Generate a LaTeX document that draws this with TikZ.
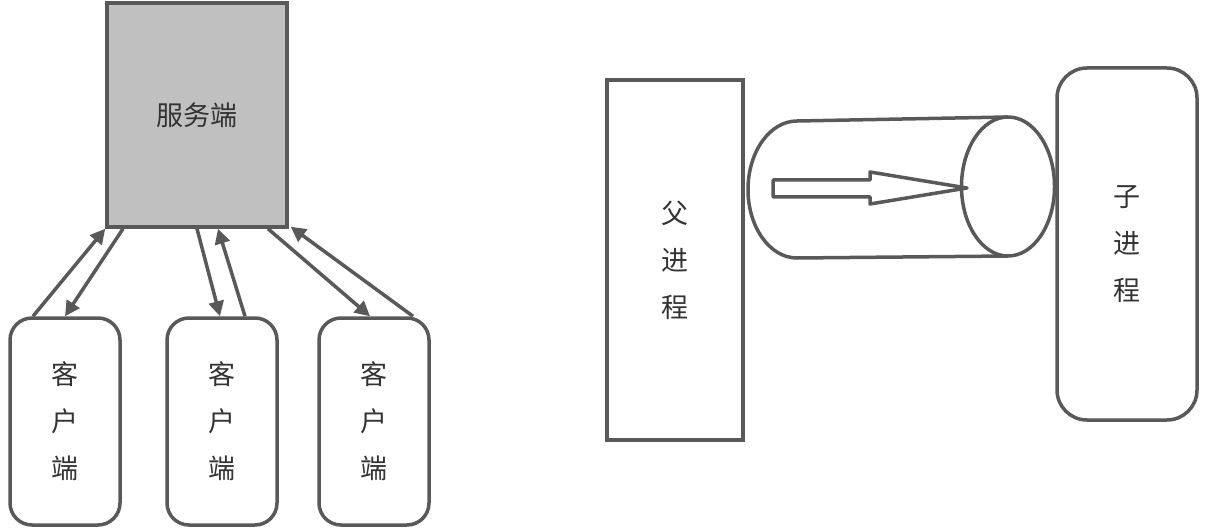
\documentclass[tikz,border=0pt]{standalone}
\usepackage{fontspec}
\newfontfamily\cjk{Noto Sans CJK SC}
\usetikzlibrary{arrows.meta}
\definecolor{ln}{HTML}{595959}
\definecolor{srvfill}{HTML}{C0C0C0}
\definecolor{txt}{HTML}{333333}
\begin{document}
\begin{tikzpicture}[x=1pt,y=-1pt,
  every node/.style={font=\cjk\fontsize{27}{47}\selectfont, text=txt, align=center, line width=3.5pt, draw=ln},
  boxsq/.style={rectangle},
  boxrd/.style={rectangle, rounded corners=22pt},
  conn/.style={draw=ln, line width=3.5pt, -{Triangle[length=15pt,width=15pt]}},
  pipe/.style={draw=ln, line width=3.5pt, line join=round}]
\useasboundingbox (0,0) rectangle (1206,529);
% left: server/clients
\node[boxsq, fill=srvfill, minimum width=180pt, minimum height=224pt] (srv) at (197,115) {服务端};
\node[boxrd, minimum width=110pt, minimum height=207pt] (c1) at (65,421.5) {客\\户\\端};
\node[boxrd, minimum width=110pt, minimum height=207pt] (c2) at (222,421.5) {客\\户\\端};
\node[boxrd, minimum width=110pt, minimum height=207pt] (c3) at (374,421.5) {客\\户\\端};
\draw[conn] ([xshift=-32pt]c1.north) -- (srv.south west);
\draw[conn] ([xshift=-74pt]srv.south) -- (c1.north);
\draw[conn] (srv.south) -- ([xshift=-2pt]c2.north);
\draw[conn] ([xshift=23pt]c2.north) -- ([xshift=21pt]srv.south);
\draw[conn] ([xshift=71pt]srv.south) -- ([xshift=-4pt]c3.north);
\draw[conn] ([xshift=39pt]c3.north) -- ([xshift=2pt,yshift=2pt]srv.south east);
% right: parent / pipe / child
\node[boxsq, minimum width=136pt, minimum height=360pt] (par) at (675,260) {父\\进\\程};
\node[boxrd, rounded corners=30pt, minimum width=140pt, minimum height=352pt] (chd) at (1127,244) {子\\进\\程};
\draw[pipe] (1008,117) -- (797,121) arc[start angle=90,end angle=270,x radius=49pt,y radius=68.5pt] -- (1008,256);
\draw[pipe] (1008,186.5) ellipse [x radius=46.5pt, y radius=69.5pt];
\draw[pipe] (773,180) -- (870,180) -- (870,172) -- (967,188) -- (870,204) -- (870,197) -- (773,197) -- cycle;
\end{tikzpicture}
\end{document}
